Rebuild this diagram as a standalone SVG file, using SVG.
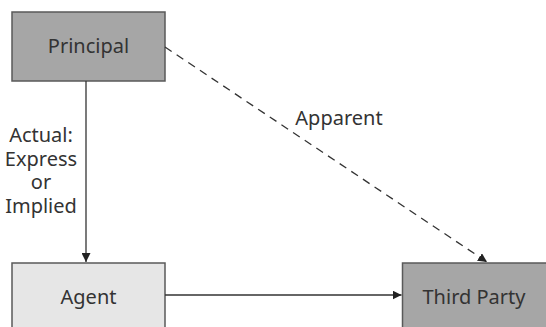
<svg xmlns="http://www.w3.org/2000/svg" width="546" height="327" viewBox="0 0 546 327">
<style>
.box{stroke:#595959;stroke-width:1.5}
.dark{fill:#a6a6a6}
.light{fill:#e6e6e6}
text{font-family:"Noto Sans","Open Sans",sans-serif;font-size:20px;fill:#333333;text-anchor:middle}
.c{stroke:#333333;stroke-width:1.3;fill:none}
</style>
<defs>
<marker id="ah" viewBox="0 0 10 10" refX="10" refY="5" markerWidth="9" markerHeight="9" markerUnits="userSpaceOnUse" orient="auto">
<path d="M0,0 L10,5 L0,10 z" fill="#222"/>
</marker>
</defs>
<g id="principal"><rect class="box dark" x="12" y="12" width="153" height="69"/><text x="88.5" y="53">Principal</text></g>
<g id="agent"><rect class="box light" x="12" y="263" width="153" height="69"/><text x="88.5" y="304">Agent</text></g>
<g id="third-party"><rect class="box dark" x="402.5" y="263" width="153" height="69"/><text x="474" y="304">Third Party</text></g>
<g id="connectors">
<line class="c" x1="86" y1="81" x2="86" y2="262" marker-end="url(#ah)"/>
<line class="c" x1="165" y1="295" x2="401.5" y2="295" marker-end="url(#ah)"/>
<line class="c" x1="165" y1="47" x2="487" y2="262" stroke-dasharray="8,6" marker-end="url(#ah)"/>
<text x="339" y="125">Apparent</text>
<text x="41" y="142">Actual:</text>
<text x="41" y="165.5">Express</text>
<text x="41" y="189">or</text>
<text x="41" y="212.5">Implied</text>
</g>
</svg>
